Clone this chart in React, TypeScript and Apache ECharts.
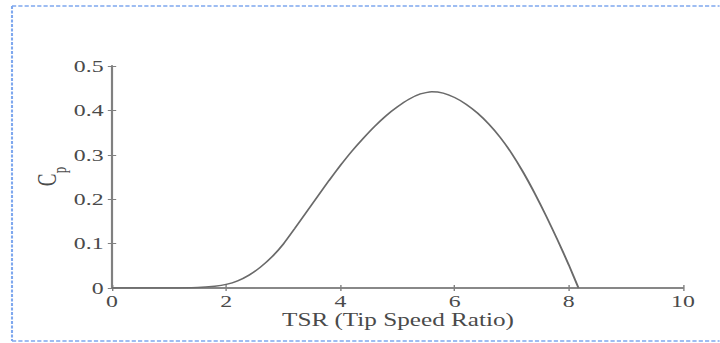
import React, { useEffect, useRef } from "react";
import * as echarts from "echarts";

// Data
const tsr = [0, 0.5, 1.0, 1.5, 1.8, 2.0, 2.2, 2.4, 2.6, 2.8, 3.0, 3.2, 3.4, 3.6, 3.8, 4.0, 4.2, 4.4, 4.6, 4.8, 5.0, 5.2, 5.4, 5.6, 5.8, 6.0, 6.2, 6.4, 6.6, 6.8, 7.0, 7.2, 7.4, 7.6, 7.8, 8.0, 8.17];
const cp = [0, 0, 0, 0.001, 0.004, 0.008, 0.016, 0.029, 0.047, 0.07, 0.099, 0.134, 0.17, 0.206, 0.242, 0.276, 0.308, 0.337, 0.364, 0.388, 0.408, 0.425, 0.437, 0.442, 0.439, 0.429, 0.414, 0.394, 0.369, 0.339, 0.303, 0.261, 0.214, 0.163, 0.109, 0.052, 0];
const xTickValues = [0, 2, 4, 6, 8, 10];
const yTickValues = [0, 0.1, 0.2, 0.3, 0.4, 0.5];
const xTitle = "TSR (Tip Speed Ratio)";
const yTitleMain = "C";
const yTitleSub = "p";

const S = 1.4; // horizontal stretch of the reference image
const W = 720 / S;
const H = 343;

export default function App() {
  const ref = useRef<HTMLDivElement>(null);
  useEffect(() => {
    if (!ref.current) return;
    const chart = echarts.init(ref.current, null, { renderer: "svg", width: W, height: H });
    const axisColor = "#808080";
    const labelColor = "#4a4a4a";
    const font = "Liberation Serif";
    const xCommon = {
      type: "value" as const,
      min: xTickValues[0],
      max: xTickValues[xTickValues.length - 1],
      interval: 2,
      splitLine: { show: false },
      axisLine: { show: true, lineStyle: { color: axisColor, width: 1.5 } },
      axisTick: { show: true, inside: true, length: 3, lineStyle: { color: axisColor, width: 1 } },
    };
    const yCommon = {
      type: "value" as const,
      min: yTickValues[0],
      max: yTickValues[yTickValues.length - 1],
      interval: 0.1,
      splitLine: { show: false },
      axisLine: { show: true, lineStyle: { color: axisColor, width: 1.5 } },
      axisTick: { show: true, inside: true, length: 3, lineStyle: { color: axisColor, width: 1 } },
    };
    const borderStyle = { stroke: "#7fa8ee", lineWidth: 1.5, lineDash: [3, 1.5] };
    const textStyle = (text: string, size: number) => ({
      text,
      fontFamily: font,
      fontSize: size,
      fill: labelColor,
      align: "center",
      verticalAlign: "middle",
      textAlign: "center",
      textVerticalAlign: "middle",
    });
    chart.setOption({
      animation: false,
      backgroundColor: "#fff",
      grid: { left: 80, right: W - 683 / S, top: 66, bottom: 55 },
      xAxis: [
        {
          ...xCommon,
          position: "bottom",
          axisLabel: { show: true, fontFamily: font, fontSize: 17, color: labelColor, margin: 5 },
        },
        { ...xCommon, position: "top", axisLabel: { show: false } },
      ],
      yAxis: [
        {
          ...yCommon,
          position: "left",
          axisLabel: {
            show: true,
            fontFamily: font,
            fontSize: 17,
            color: labelColor,
            margin: 6,
            formatter: (v: number) => (v === 0 ? "0" : v.toFixed(1)),
          },
        },
        { ...yCommon, position: "right", axisLabel: { show: false } },
      ],
      series: [
        {
          type: "line",
          xAxisIndex: 0,
          yAxisIndex: 0,
          data: tsr.map((x, i) => [x, cp[i]]),
          showSymbol: false,
          smooth: 0.2,
          lineStyle: { color: "#6a6a6a", width: 1.4 },
        },
      ],
      graphic: [
        { type: "line", shape: { x1: 12 / S, y1: 6, x2: W + 30, y2: 6 }, style: borderStyle },
        { type: "line", shape: { x1: 12 / S, y1: 341, x2: W + 30, y2: 341 }, style: borderStyle },
        { type: "line", shape: { x1: 12 / S, y1: 6, x2: 12 / S, y2: 341 }, style: borderStyle },
        { type: "text", x: 398 / S, y: 320, style: textStyle(xTitle, 18) },
        { type: "text", x: 47 / S, y: 180, rotation: Math.PI / 2, style: textStyle(yTitleMain, 19) },
        { type: "text", x: 60 / S, y: 170, rotation: Math.PI / 2, style: textStyle(yTitleSub, 13) },
      ],
    });
    return () => chart.dispose();
  }, []);
  return (
    <div
      ref={ref}
      style={{
        position: "fixed",
        left: 0,
        top: 0,
        width: W,
        height: H,
        transform: `scaleX(${S})`,
        transformOrigin: "0 0",
        background: "#fff",
      }}
    />
  );
}
